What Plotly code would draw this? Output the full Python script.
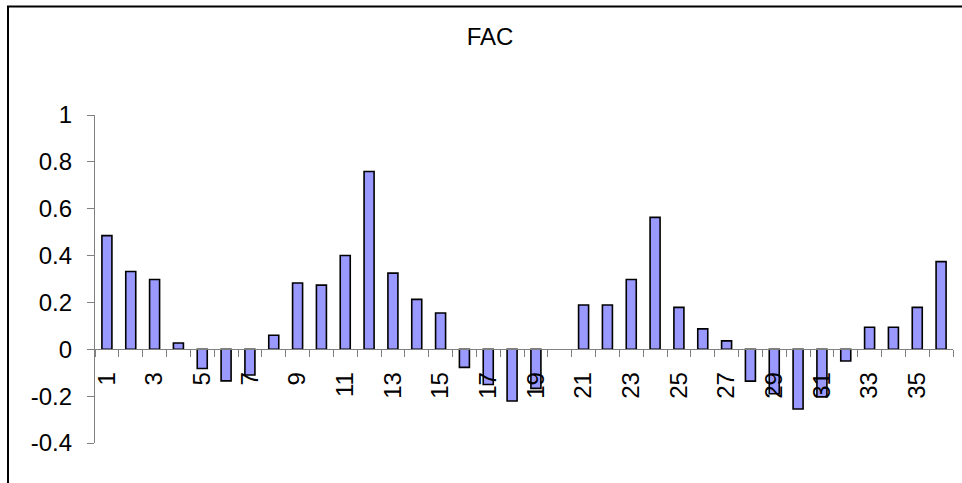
import plotly.graph_objects as go

# ---- data ----
lags = list(range(1, 37))
fac = [0.485, 0.332, 0.298, 0.027, -0.082, -0.135, -0.110, 0.060, 0.283, 0.274,
       0.400, 0.759, 0.325, 0.213, 0.155, -0.077, -0.150, -0.221, -0.167, None,
       0.189, 0.189, 0.298, 0.563, 0.179, 0.087, 0.036, -0.136, -0.190, -0.255,
       -0.203, -0.050, 0.094, 0.094, 0.179, 0.374]
x_tick_vals = list(range(1, 37, 2))
x_tick_text = [str(v) for v in x_tick_vals]
y_tick_vals = [1, 0.8, 0.6, 0.4, 0.2, 0, -0.2, -0.4]
y_tick_text = ["1", "0.8", "0.6", "0.4", "0.2", "0", "-0.2", "-0.4"]
boundaries = [v + 0.5 for v in range(0, 37)]

# ---- layout constants ----
W, H = 962, 483
ML, MR, MT, MB = 95, 9, 115, 40
PW, PH = W - ML - MR, H - MT - MB
YMIN, YMAX = -0.4, 1.0
FONT = "Arial, Liberation Sans, sans-serif"
AXC = "#808080"

def px_x(px):
    return (px - ML) / PW

def px_y(py):
    return (H - MB - py) / PH

zero_pos = (0 - YMIN) / (YMAX - YMIN)

fig = go.Figure()
fig.add_trace(go.Bar(
    x=lags, y=fac, width=0.42,
    marker=dict(color="#9999FF", line=dict(color="black", width=1.6)),
    showlegend=False, hoverinfo="x+y",
))

fig.update_layout(
    width=W, height=H,
    margin=dict(l=ML, r=MR, t=MT, b=MB),
    paper_bgcolor="white", plot_bgcolor="white",
    font=dict(family=FONT, size=24, color="black"),
    title=dict(text="FAC", x=490 / W, xref="container", xanchor="center",
               y=1 - 37 / H, yref="container", yanchor="middle",
               font=dict(family=FONT, size=24, color="black")),
    xaxis=dict(
        range=[0.5, 36.5], anchor="free", position=zero_pos,
        showgrid=False, zeroline=False,
        showline=True, linecolor=AXC, linewidth=1.3,
        tickmode="array", tickvals=x_tick_vals, ticktext=x_tick_text,
        ticks="", tickangle=-90, ticklabelstandoff=12,
        tickfont=dict(family=FONT, size=24, color="black"),
    ),
    xaxis2=dict(
        range=[0.5, 36.5], anchor="free", position=zero_pos, overlaying="x",
        side="bottom", showgrid=False, zeroline=False, showline=False,
        tickmode="array", tickvals=boundaries, ticks="outside", ticklen=7,
        tickcolor=AXC, tickwidth=1.3, showticklabels=False,
    ),
    yaxis=dict(
        range=[YMIN, YMAX], showgrid=False, zeroline=False,
        showline=True, linecolor=AXC, linewidth=1.3,
        tickmode="array", tickvals=y_tick_vals, ticktext=y_tick_text,
        ticks="outside", ticklen=7, tickcolor=AXC, tickwidth=1.3,
        ticklabelstandoff=10,
        tickfont=dict(family=FONT, size=24, color="black"),
    ),
    shapes=[dict(type="rect", xref="paper", yref="paper",
                 x0=px_x(8), x1=px_x(1040), y0=px_y(520), y1=px_y(6.5),
                 line=dict(color="black", width=2), fillcolor="rgba(0,0,0,0)",
                 layer="below")],
)
# dummy trace for the overlaid tick axis
fig.add_trace(go.Scatter(x=[None], y=[None], xaxis="x2", showlegend=False, hoverinfo="skip"))

fig.write_html("out.html")
